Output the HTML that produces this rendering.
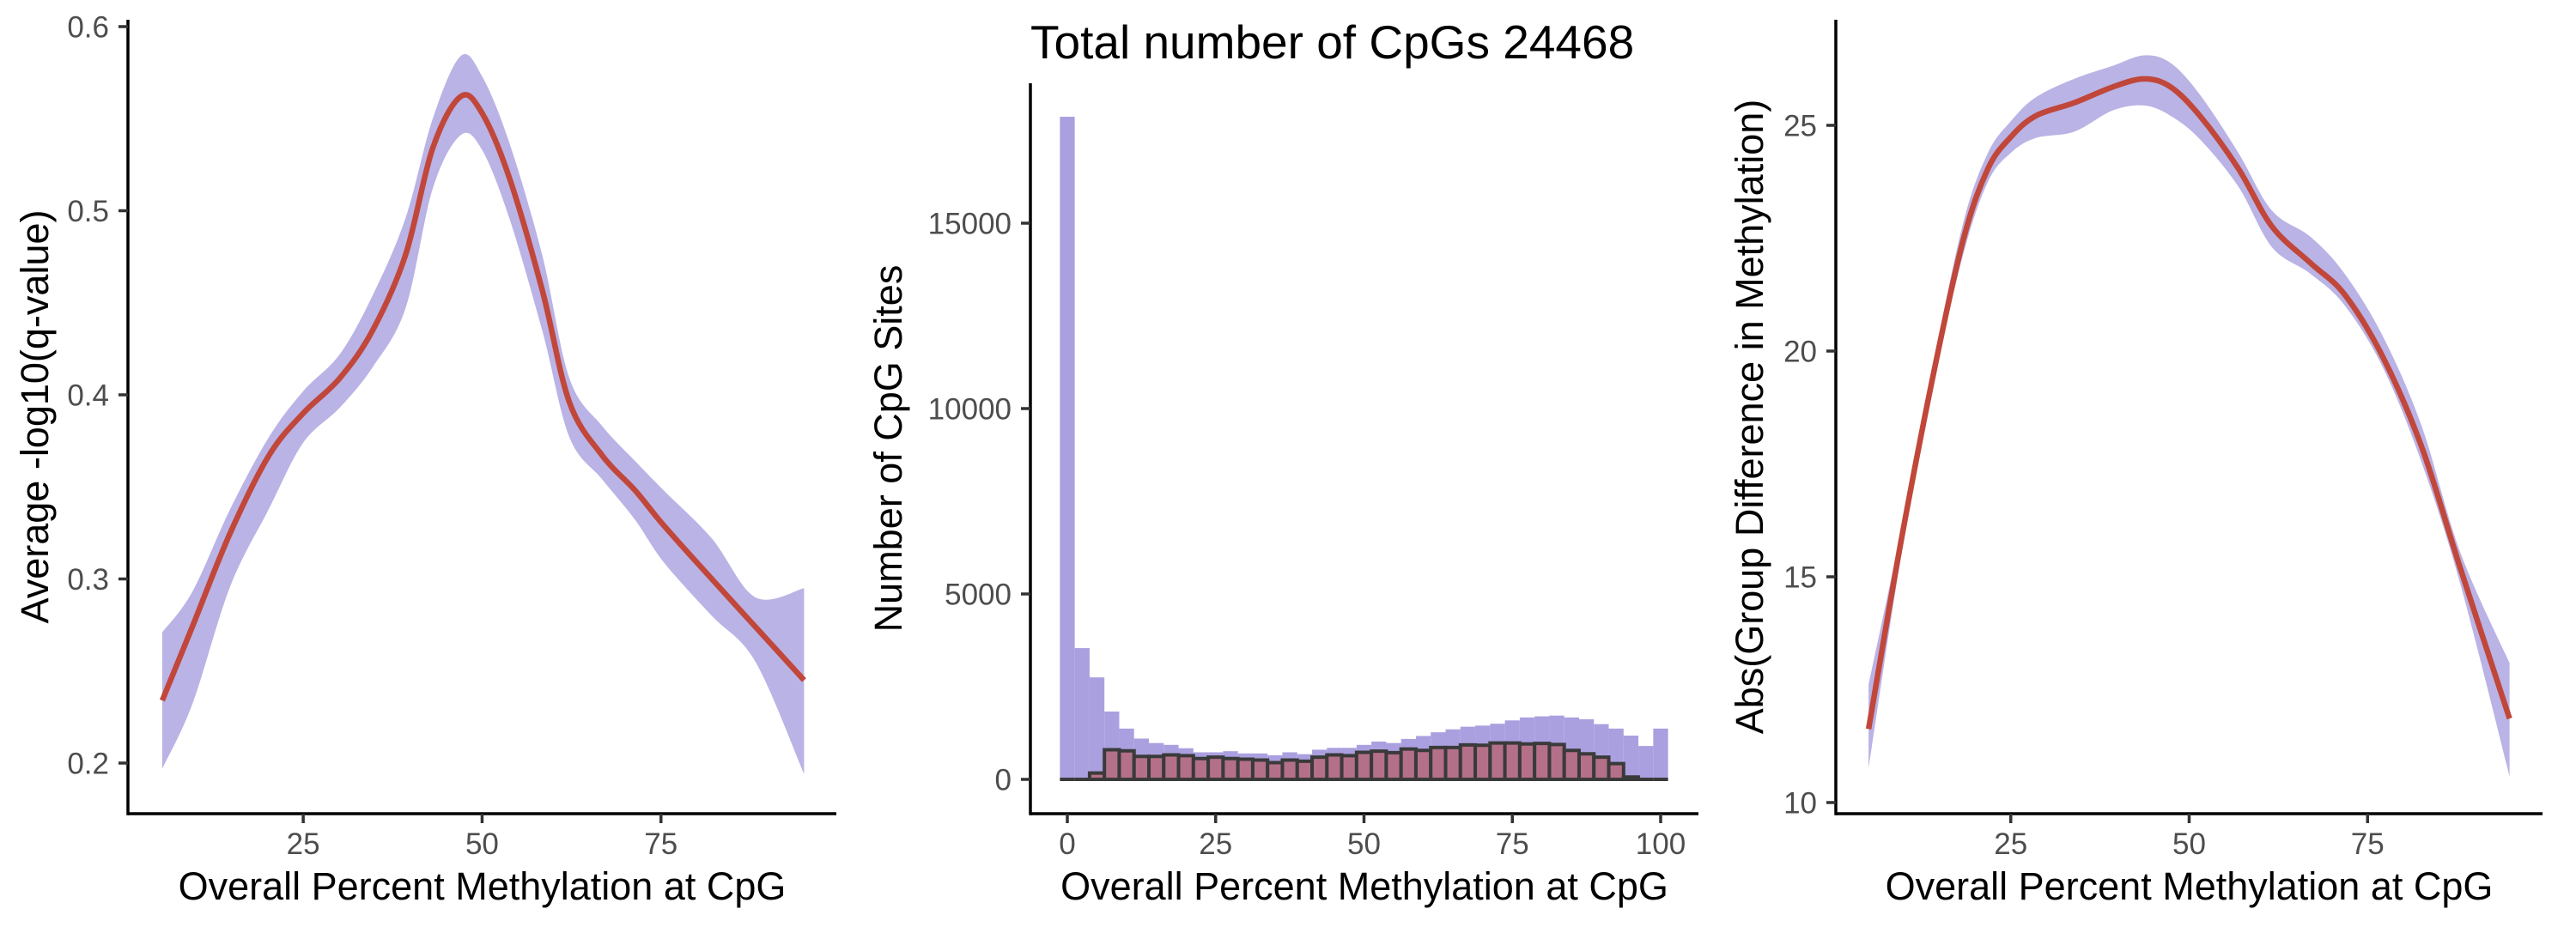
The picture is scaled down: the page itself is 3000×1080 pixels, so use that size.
<!DOCTYPE html>
<html><head><meta charset="utf-8"><style>
html,body{margin:0;padding:0;background:#fff;}
svg{display:block;}
text{font-family:"Liberation Sans",Arial,sans-serif;}
</style></head><body>
<svg id="fig" width="3000" height="1080" viewBox="0 0 3000 1080" xmlns="http://www.w3.org/2000/svg">
<g id="p1"></g>
<g id="p2"></g>
<g id="p3"></g>
</svg>
<script>
// Panel 1 data
const p1X = [5.3,9.5,14.8,20.2,25,30.1,34.7,39.3,43.1,47,50,53.8,58.4,62.2,66.8,71.4,75.4,82.1,88.2,95];
const p1Fit = [0.234,0.274,0.325,0.367,0.390,0.409,0.435,0.476,0.534,0.562,0.553,0.518,0.457,0.396,0.367,0.348,0.329,0.300,0.274,0.245];
const p1Upper = [0.271,0.293,0.338,0.377,0.402,0.422,0.454,0.496,0.550,0.584,0.573,0.537,0.476,0.409,0.383,0.364,0.348,0.322,0.290,0.295];
const p1Lower = [0.197,0.232,0.296,0.338,0.374,0.393,0.415,0.447,0.512,0.541,0.533,0.496,0.435,0.377,0.354,0.332,0.309,0.280,0.255,0.194];
const p1YTicks = [0.2,0.3,0.4,0.5,0.6];
const p1XTicks = [25,50,75];
// Panel 2 data (bins of width 2.5 centred on 0..100)
const binCenters = [0,2.5,5,7.5,10,12.5,15,17.5,20,22.5,25,27.5,30,32.5,35,37.5,40,42.5,45,47.5,50,52.5,55,57.5,60,62.5,65,67.5,70,72.5,75,77.5,80,82.5,85,87.5,90,92.5,95,97.5,100];
const allCounts = [17870,3540,2750,1830,1370,1100,980,930,840,730,730,760,700,700,650,730,680,800,850,850,930,1020,980,1090,1170,1270,1350,1420,1450,1500,1590,1670,1700,1720,1670,1620,1490,1370,1180,900,1370];
const sigCounts = [0,0,170,800,770,620,620,660,640,560,600,560,545,520,450,520,490,600,660,640,730,760,720,820,780,860,860,930,920,980,980,955,970,940,780,690,600,425,65,0,0];
const p2YTicks = [0,5000,10000,15000];
const p2XTicks = [0,25,50,75,100];
// Panel 3 data
const p3X = [5.07,9.6,14.3,18.4,21.8,25,28.5,33.9,39.3,43.7,47.4,51.5,56.9,61.6,67,71.8,77.2,82.6,88,94.9];
const p3Fit = [11.63,15.77,19.6,22.5,24.04,24.74,25.21,25.5,25.85,26.03,25.85,25.21,24.04,22.76,21.95,21.25,19.85,17.87,15.19,11.86];
const p3Upper = [12.62,16.0,19.85,22.88,24.39,25.09,25.62,26.03,26.32,26.55,26.38,25.68,24.39,23.11,22.53,21.71,20.31,18.33,15.54,13.09];
const p3Lower = [10.76,15.42,19.38,22.18,23.75,24.39,24.72,24.86,25.33,25.44,25.21,24.69,23.64,22.3,21.71,21.01,19.62,17.52,14.84,10.58];
const p3YTicks = [10,15,20,25];
const p3XTicks = [25,50,75];

const NS = 'http://www.w3.org/2000/svg';
function mk(parent, tag, attrs, txt){
  const e = document.createElementNS(NS, tag);
  for (const k in attrs) e.setAttribute(k, attrs[k]);
  if (txt !== undefined) e.textContent = txt;
  parent.appendChild(e);
  return e;
}
function smooth(pts){
  let d = 'M' + pts[0][0] + ',' + pts[0][1];
  for (let i = 0; i < pts.length - 1; i++){
    const p0 = pts[Math.max(0,i-1)], p1 = pts[i], p2 = pts[i+1], p3 = pts[Math.min(pts.length-1,i+2)];
    const c1x = p1[0] + (p2[0]-p0[0])/6, c1y = p1[1] + (p2[1]-p0[1])/6;
    const c2x = p2[0] - (p3[0]-p1[0])/6, c2y = p2[1] - (p3[1]-p1[1])/6;
    d += ' C' + c1x + ',' + c1y + ' ' + c2x + ',' + c2y + ' ' + p2[0] + ',' + p2[1];
  }
  return d;
}
function smoothRev(pts){ return smooth(pts.slice().reverse()).replace(/^M/, 'L'); }

function axes(g, o){
  const ax = mk(g,'line',{x1:o.x0,y1:o.yBot,x2:o.x1,y2:o.yBot,stroke:'#000','stroke-width':3.5});
  
  
  const ay = mk(g,'line',{x1:o.x0,y1:o.yTop,x2:o.x0,y2:o.yBot+1.75,stroke:'#000','stroke-width':3.5});
  
  
  o.xt.forEach(v=>{
    const x = o.sx(v);
    const t = mk(g,'line',{x1:x,y1:o.yBot,x2:x,y2:o.yBot+11,stroke:'#333','stroke-width':3.5});
    
    
    const l = mk(g,'text',{x:x,y:o.yBot+47,'font-size':35,fill:'#4d4d4d','text-anchor':'middle'}, String(v));
    
    
  });
  o.yt.forEach(v=>{
    const y = o.sy(v);
    const t = mk(g,'line',{x1:o.x0-11,y1:y,x2:o.x0,y2:y,stroke:'#333','stroke-width':3.5});
    
    
    const l = mk(g,'text',{x:o.x0-22,y:y+12.5,'font-size':35,fill:'#4d4d4d','text-anchor':'end'}, o.fmt(v));
    
    
  });
  const xl = mk(g,'text',{x:(o.x0+o.x1)/2,y:1048,'font-size':45,fill:'#000','text-anchor':'middle'},'Overall Percent Methylation at CpG');
  
  
  const cy = (o.yTop+o.yBot)/2;
  const yl = mk(g,'text',{x:o.ylabX,y:cy,'font-size':45,fill:'#000','text-anchor':'middle',transform:'rotate(-90 '+o.ylabX+' '+cy+')'},o.ylabel);
  
  
}

function smoothPanel(g, X, fit, up, lo, sx, sy){
  const U = X.map((x,i)=>[sx(x),sy(up[i])]);
  const L = X.map((x,i)=>[sx(x),sy(lo[i])]);
  const band = mk(g,'path',{d: smooth(U) + ' ' + smoothRev(L) + ' Z', fill:'#bab3e5'});
  
  
  const F = X.map((x,i)=>[sx(x),sy(fit[i])]);
  const ln = mk(g,'path',{d: smooth(F), fill:'none', stroke:'#c0473a','stroke-width':6.5});
  
  
}

// Panel 1
(function(){
  const g = document.getElementById('p1');
  const sx = v => 144.8 + v*8.333;
  const sy = v => 31 + (0.6 - v)*2145;
  smoothPanel(g, p1X, p1Fit, p1Upper, p1Lower, sx, sy);
  axes(g,{x0:149,x1:974,yTop:23,yBot:948,sx:sx,sy:sy,xt:p1XTicks,yt:p1YTicks,fmt:v=>v.toFixed(1),ylabel:'Average -log10(q-value)',ylabX:56});
})();

// Panel 2
(function(){
  const g = document.getElementById('p2');
  const sx = v => 1243 + v*6.91;
  const sy = v => 908 - v*0.0432;
  const w = 2.5;
  binCenters.forEach((c,i)=>{
    const x = sx(c - w/2), x2 = sx(c + w/2);
    const y = sy(allCounts[i]);
    const r = mk(g,'rect',{x:x,y:y,width:x2-x,height:sy(0)-y,fill:'#aaa0e0'});
    
    
  });
  binCenters.forEach((c,i)=>{
    const x = sx(c - w/2), x2 = sx(c + w/2);
    const y = sy(sigCounts[i]), y0 = sy(0);
    const d = 'M'+x+','+y0+' L'+x+','+y+' L'+x2+','+y+' L'+x2+','+y0+' Z';
    const r = mk(g,'path',{d:d,fill:'#b47089',stroke:'#3a3a3a','stroke-width':4,'stroke-linejoin':'miter'});
    
    
  });
  axes(g,{x0:1200,x1:1978,yTop:97,yBot:948,sx:sx,sy:sy,xt:p2XTicks,yt:p2YTicks,fmt:v=>String(v),ylabel:'Number of CpG Sites',ylabX:1050});
  const t = mk(g,'text',{x:1200,y:68,'font-size':55,fill:'#000'},'Total number of CpGs 24468');
  
  
})();

// Panel 3
(function(){
  const g = document.getElementById('p3');
  const sx = v => 2134 + v*8.31;
  const sy = v => 146 + (25 - v)*52.6;
  smoothPanel(g, p3X, p3Fit, p3Upper, p3Lower, sx, sy);
  axes(g,{x0:2138,x1:2961,yTop:23,yBot:948,sx:sx,sy:sy,xt:p3XTicks,yt:p3YTicks,fmt:v=>String(v),ylabel:'Abs(Group Difference in Methylation)',ylabX:2053});
})();
</script>
</body></html>
